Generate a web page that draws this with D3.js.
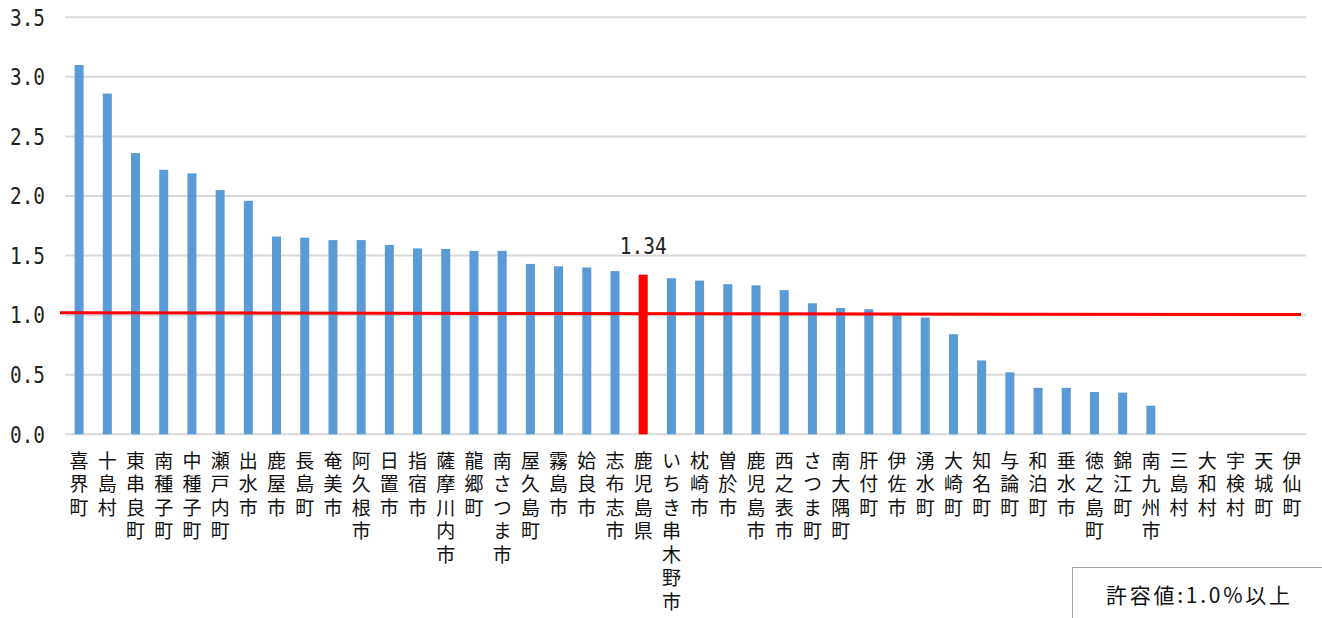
<!DOCTYPE html>
<html>
<head>
<meta charset="utf-8">
<script src="https://cdn.jsdelivr.net/npm/d3@7"></script>
<style>
    body { margin: 0; background: #fff; }
    .bar { fill: #5b9bd5; }
    .bar.pref { fill: #ff0000; }
    .grid line { stroke: #d9d9d9; stroke-width: 2px; }
    .ylab { font-family: "DejaVu Sans Mono", monospace; font-size: 23px; fill: #222; }
    .xlab { font-family: "Noto Sans CJK JP", sans-serif; font-size: 19px; fill: #111;
            writing-mode: vertical-rl; letter-spacing: 4.5px; }
</style>
</head>
<body>
<svg id="mySVG" width="1322" height="618"></svg>
<script>
// 市町村
const categories = ["喜界町", "十島村", "東串良町", "南種子町", "中種子町", "瀬戸内町", "出水市", "鹿屋市", "長島町", "奄美市",
    "阿久根市", "日置市", "指宿市", "薩摩川内市", "龍郷町", "南さつま市", "屋久島町", "霧島市", "姶良市", "志布志市",
    "鹿児島県", "いちき串木野市", "枕崎市", "曽於市", "鹿児島市", "西之表市", "さつま町", "南大隅町", "肝付町", "伊佐市",
    "湧水町", "大崎町", "知名町", "与論町", "和泊町", "垂水市", "徳之島町", "錦江町", "南九州市", "三島村",
    "大和村", "宇検村", "天城町", "伊仙町"];
const values = [3.10, 2.86, 2.36, 2.22, 2.19, 2.05, 1.96, 1.66, 1.65, 1.63,
    1.63, 1.59, 1.56, 1.555, 1.54, 1.54, 1.43, 1.41, 1.40, 1.37,
    1.34, 1.31, 1.29, 1.26, 1.25, 1.21, 1.10, 1.06, 1.05, 1.01,
    0.98, 0.84, 0.62, 0.52, 0.39, 0.39, 0.355, 0.35, 0.24, 0,
    0, 0, 0, 0];
const highlight = "鹿児島県";
const highlightLabel = "1.34";
const yTicks = [0, 0.5, 1.0, 1.5, 2.0, 2.5, 3.0, 3.5];
const limitLine = [1.02, 1.005]; // 手描きの許容値ライン（左端, 右端）
const noteText = "許容値:1.0%以上";

const svg = d3.select("#mySVG");
const x = d3.scaleBand().domain(categories).range([65, 1306]).paddingInner(0.68).paddingOuter(0.34);
const y = d3.scaleLinear().domain([0, 3.5]).range([434.3, 17.3]);

// grid
svg.append("g").attr("class", "grid")
    .selectAll("line").data(yTicks).enter().append("line")
    .attr("x1", x.range()[0]).attr("x2", x.range()[1])
    .attr("y1", d => y(d)).attr("y2", d => y(d));

// y labels
svg.append("g").selectAll("text").data(yTicks).enter().append("text")
    .attr("class", "ylab")
    .attr("x", 10).attr("y", d => y(d))
    .attr("dy", "0.36em")
    .attr("textLength", 35).attr("lengthAdjust", "spacingAndGlyphs")
    .text(d => d.toFixed(1));

// bars
svg.append("g").selectAll("rect").data(categories).enter().append("rect")
    .attr("class", (d) => d === highlight ? "bar pref" : "bar")
    .attr("x", d => x(d))
    .attr("width", x.bandwidth())
    .attr("y", (d, i) => y(values[i]))
    .attr("height", (d, i) => y(0) - y(values[i]));

// value label
const hi = categories.indexOf(highlight);
svg.append("text")
    .attr("class", "ylab")
    .attr("x", x(highlight) + x.bandwidth() / 2 - 23.5)
    .attr("y", y(values[hi]) - 21)
    .attr("textLength", 47).attr("lengthAdjust", "spacingAndGlyphs")
    .text(highlightLabel);

// x labels (縦書き)
svg.append("g").selectAll("text").data(categories).enter().append("text")
    .attr("class", "xlab")
    .attr("x", d => x(d) + x.bandwidth() / 2)
    .attr("y", 451)
    .text(d => d);

// red limit line
svg.append("line")
    .attr("x1", x.range()[0] - 5).attr("x2", x.range()[1] - 5)
    .attr("y1", y(limitLine[0])).attr("y2", y(limitLine[1]))
    .attr("stroke", "#ff0000").attr("stroke-width", 3);

// note box
svg.append("rect")
    .attr("x", 1072.5).attr("y", 567.5).attr("width", 260).attr("height", 60)
    .attr("fill", "#fff").attr("stroke", "#a6a6a6").attr("stroke-width", 1);
svg.append("text")
    .attr("x", 1106).attr("y", 595).attr("dy", "0.36em")
    .attr("font-family", "Noto Sans CJK JP, sans-serif").attr("font-size", 21).attr("fill", "#111")
    .attr("textLength", 184).attr("lengthAdjust", "spacing")
    .text(noteText);
</script>
</body>
</html>
